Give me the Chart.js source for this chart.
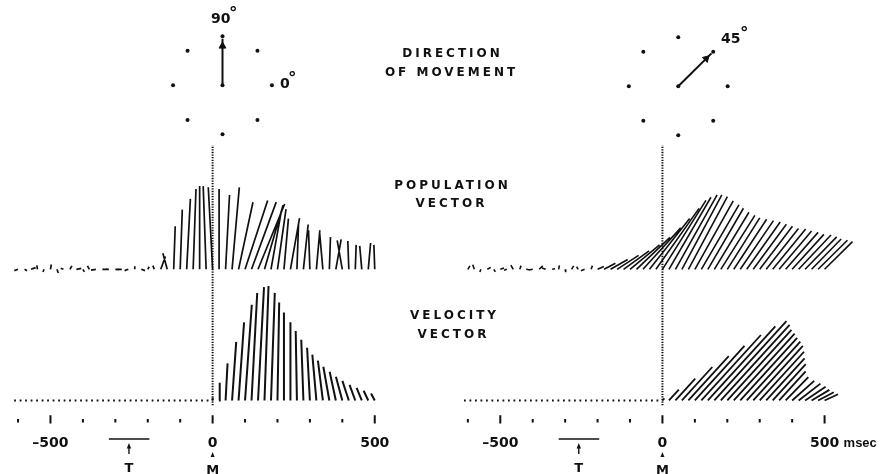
<!DOCTYPE html>
<html>
<head>
<meta charset="utf-8">
<script src="https://cdn.jsdelivr.net/npm/chart.js@4/dist/chart.umd.min.js"></script>
<style>
  html, body { margin: 0; padding: 0; background: #fff; }
  #wrap { width: 880px; height: 474px; position: relative; }
</style>
</head>
<body>
<div id="wrap"><canvas id="fig"></canvas></div>
<script>
// time axis (msec, relative to movement onset M)
const tickMs = [-600, -500, -400, -300, -200, -100, 0, 100, 200, 300, 400, 500];
const majorMs = [-500, 0, 500];
const tickLabels = ['\u2013500', '0', '500'];
const targetBarMs = [-320, -195];
const targetMs = -258;

// direction of movement dials
const targetDirs = [0, 45, 90, 135, 180, 225, 270, 315];
const moveDirs = [90, 45];

// population vector, sampled every 20 ms
const popT = [-600, -580, -560, -540, -520, -500, -480, -460, -440, -420, -400, -380, -360, -340,
  -320, -300, -280, -260, -240, -220, -200, -180, -160, -140, -120, -100, -80, -60, -40, -20,
  0, 20, 40, 60, 80, 100, 120, 140, 160, 180, 200, 220, 240, 260, 280, 300, 320, 340, 360, 380,
  400, 420, 440, 460, 480, 500];
const leftPopMag = [4, 3, 5, 4, 3, 5, 4, 3, 4, 5, 3, 4, 5, 4, 3, 4, 5, 4, 3, 4, 3, 4,
  14, 17, 44, 61, 72, 82, 85, 85, 84, 82, 76, 84, 70, 74, 73, 72, 68, 58, 62, 52,
  53, 47, 46, 40, 40, 37, 33, 31, 30, 29, 25, 24, 27, 25];
const leftPopDir = [200, 330, 20, 100, 250, 80, 290, 160, 60, 10, 300, 120, 190, 0, 175, 355, 180, 200, 90, 340, 60, 110,
  70, 105, 88, 88, 87, 88, 90, 92, 93, 90, 87, 85, 78, 72, 70, 68, 74, 80, 82, 85,
  80, 88, 84, 92, 85, 95, 88, 80, 100, 92, 88, 95, 85, 92];
const rightPopMag = [4, 5, 3, 4, 3, 4, 3, 5, 4, 3, 4, 5, 4, 3, 4, 3, 4, 3, 4, 4,
  7, 13, 20, 26, 32, 39, 47, 57, 66, 76, 83, 85, 87, 86, 84, 80, 76, 72, 68, 65,
  62, 61, 60, 59, 57, 55, 53, 53, 51, 50, 48, 48, 46, 43, 42, 40];
const rightPopDir = [60, 110, 250, 30, 300, 20, 200, 120, 70, 350, 190, 45, 160, 10, 80, 280, 60, 120, 200, 70,
  25, 28, 30, 33, 36, 40, 44, 48, 52, 55, 58, 60, 61, 62, 62, 61, 60, 60, 59, 58,
  58, 57, 56, 55, 54, 53, 52, 51, 50, 49, 48, 47, 46, 46, 45, 45];

// movement velocity vector, sampled every 20 ms
const velT = [0, 20, 40, 60, 80, 100, 120, 140, 160, 180, 200, 220, 240, 260, 280, 300, 320, 340, 360, 380,
  400, 420, 440, 460, 480, 500];
const leftVelMag = [3, 18, 38, 60, 80, 98, 110, 116, 117, 110, 100, 90, 80, 71, 62, 54, 47, 41, 35, 30,
  25, 21, 17, 14, 11, 8];
const leftVelDir = [90, 88, 87, 86, 86, 86, 87, 87, 88, 88, 89, 90, 90, 91, 92, 93, 95, 97, 100, 102,
  105, 108, 110, 112, 115, 118];
const rightVelMag = [3, 15, 30, 46, 61, 75, 90, 102, 109, 104, 97, 92, 86, 81, 75, 67, 58, 50, 40, 33,
  30, 28, 25, 21, 18, 15];
const rightVelDir = [48, 48, 48, 48, 48, 48, 48, 48, 48, 48, 48, 48, 48, 48, 48, 48, 48, 48, 48, 46,
  42, 38, 34, 31, 28, 25];

// layout
const W = 880, H = 474;
const PX_PER_MS = 0.328;
const LEFT_ZERO = 210, RIGHT_ZERO = 665;
const POP_BASE = 270, VEL_BASE = 404;
const VLINE_TOP = 261;       // top of the dotted M line, above the velocity baseline
const DIAL_R = 50;
const DIAL_CENTERS = [[220, 82], [681, 83]];
const INK = '#111';

// one vector per sample: tail on the baseline, head along its direction
function vectorData(times, mags, dirs) {
  const d = [];
  for (let i = 0; i < times.length; i++) {
    const a = dirs[i] * Math.PI / 180;
    d.push({ x: times[i], y: 0 });
    d.push({ x: times[i] + mags[i] * Math.cos(a) / PX_PER_MS, y: mags[i] * Math.sin(a) });
    d.push({ x: times[i], y: null });
  }
  return d;
}

function tickData(values, y0, y1) {
  const d = [];
  values.forEach(v => { d.push({ x: v, y: y0 }, { x: v, y: y1 }, { x: v, y: null }); });
  return d;
}

function dialDots() {
  const d = [];
  DIAL_CENTERS.forEach(([cx, cy]) => {
    d.push({ x: cx, y: cy });
    targetDirs.forEach(a => {
      const r = a * Math.PI / 180;
      d.push({ x: cx + DIAL_R * Math.cos(r), y: cy - DIAL_R * Math.sin(r) });
    });
  });
  return d;
}

function dialArrows() {
  const d = [];
  moveDirs.forEach((a, i) => {
    const [cx, cy] = DIAL_CENTERS[i];
    const r = a * Math.PI / 180;
    d.push({ x: cx, y: cy }, { x: cx + 0.95 * DIAL_R * Math.cos(r), y: cy - 0.95 * DIAL_R * Math.sin(r) }, { x: cx, y: null });
  });
  return d;
}

function arrowHeads() {
  return moveDirs.map((a, i) => {
    const [cx, cy] = DIAL_CENTERS[i];
    const r = a * Math.PI / 180;
    return { x: cx + 0.8 * DIAL_R * Math.cos(r), y: cy - 0.8 * DIAL_R * Math.sin(r) };
  });
}

const minorMs = tickMs.filter(t => !majorMs.includes(t));

function lineSet(data, xAxisID, yAxisID, width, dash) {
  return {
    data, xAxisID, yAxisID,
    showLine: true, borderColor: INK, borderWidth: width, borderDash: dash || [],
    pointRadius: 0, pointHoverRadius: 0, tension: 0, fill: false
  };
}

const datasets = [
  lineSet(vectorData(popT, leftPopMag, leftPopDir), 'x', 'yp', 1.7),
  lineSet(vectorData(popT, rightPopMag, rightPopDir), 'x2', 'yp', 1.6),
  lineSet(vectorData(velT, leftVelMag, leftVelDir), 'x', 'yv', 2),
  lineSet(vectorData(velT, rightVelMag, rightVelDir), 'x2', 'yv', 1.8),
  lineSet([{ x: -612, y: 0 }, { x: 0, y: 0 }], 'x', 'yv', 1.8, [1.8, 3.7]),
  lineSet([{ x: -612, y: 0 }, { x: 0, y: 0 }], 'x2', 'yv', 1.8, [1.8, 3.7]),
  lineSet([{ x: 0, y: -5 }, { x: 0, y: VLINE_TOP }], 'x', 'yv', 2, [1.3, 1.3]),
  lineSet([{ x: 0, y: -5 }, { x: 0, y: VLINE_TOP }], 'x2', 'yv', 2, [1.3, 1.3]),
  lineSet(tickData(minorMs, -19, -22.5), 'x', 'yv', 2),
  lineSet(tickData(minorMs, -19, -22.5), 'x2', 'yv', 2),
  lineSet(tickData(majorMs, -15, -23.5), 'x', 'yv', 2),
  lineSet(tickData(majorMs, -15, -23.5), 'x2', 'yv', 2),
  lineSet(dialArrows(), 'xd', 'yd', 2),
  {
    data: dialDots(), xAxisID: 'xd', yAxisID: 'yd', showLine: false,
    pointRadius: 2, pointBackgroundColor: INK, pointBorderWidth: 0, pointHoverRadius: 2
  },
  {
    data: arrowHeads(), xAxisID: 'xd', yAxisID: 'yd', showLine: false,
    pointStyle: 'triangle', pointRadius: 4, rotation: moveDirs.map(a => 90 - a),
    pointBackgroundColor: INK, pointBorderColor: INK, pointBorderWidth: 1
  }
];

function spaced(ctx, str, cx, y, spacing) {
  ctx.letterSpacing = spacing + 'px';
  const w = ctx.measureText(str).width - spacing;
  ctx.textAlign = 'left';
  ctx.fillText(str, cx - w / 2, y);
  ctx.letterSpacing = '0px';
}

const textPlugin = {
  id: 'figureText',
  afterDraw(chart) {
    const ctx = chart.ctx;
    ctx.save();
    ctx.fillStyle = INK;
    ctx.strokeStyle = INK;
    ctx.textBaseline = 'alphabetic';

    // row titles
    ctx.font = 'bold 12px "DejaVu Sans"';
    spaced(ctx, 'DIRECTION', 451, 57, 3);
    spaced(ctx, 'OF MOVEMENT', 450, 76, 3);
    spaced(ctx, 'POPULATION', 451, 189, 3);
    spaced(ctx, 'VECTOR', 450, 207, 3);
    spaced(ctx, 'VELOCITY', 453, 319, 3);
    spaced(ctx, 'VECTOR', 452, 338, 3);

    // dial labels
    ctx.font = 'bold 14px "DejaVu Sans"';
    ctx.textAlign = 'left';
    ctx.fillText('90', 211, 23);
    ctx.fillText('0', 280, 88);
    ctx.fillText('45', 721, 43);
    ctx.font = 'bold 17px "DejaVu Sans"';
    ctx.fillText('\u00b0', 229, 19);
    ctx.fillText('\u00b0', 288, 84);
    ctx.fillText('\u00b0', 740, 39);

    ['x', 'x2'].forEach((id, p) => {
      const sx = chart.scales[id];
      // tick labels
      ctx.font = 'bold 14px "DejaVu Sans"';
      ctx.textAlign = 'center';
      majorMs.forEach((t, i) => ctx.fillText(tickLabels[i], sx.getPixelForValue(t), 447));
      if (p === 1) {
        ctx.font = 'bold 13px "Liberation Sans"';
        ctx.textAlign = 'left';
        ctx.fillText('msec', sx.getPixelForValue(500) + 19, 447);
      }
      // target onset T
      ctx.lineWidth = 1.6;
      ctx.beginPath();
      ctx.moveTo(sx.getPixelForValue(targetBarMs[0]), 439);
      ctx.lineTo(sx.getPixelForValue(targetBarMs[1]), 439);
      ctx.stroke();
      const tx = sx.getPixelForValue(targetMs);
      ctx.lineWidth = 1.4;
      ctx.beginPath();
      ctx.moveTo(tx, 454);
      ctx.lineTo(tx, 447);
      ctx.stroke();
      ctx.beginPath();
      ctx.moveTo(tx, 443);
      ctx.lineTo(tx - 2.2, 448.5);
      ctx.lineTo(tx + 2.2, 448.5);
      ctx.closePath();
      ctx.fill();
      ctx.font = 'bold 13px "DejaVu Sans"';
      ctx.textAlign = 'center';
      ctx.fillText('T', tx, 472);
      // movement onset M
      const mx = sx.getPixelForValue(0);
      ctx.beginPath();
      ctx.moveTo(mx, 452);
      ctx.lineTo(mx - 2, 457);
      ctx.lineTo(mx + 2, 457);
      ctx.closePath();
      ctx.fill();
      ctx.fillText('M', mx, 474);
    });
    ctx.restore();
  }
};

new Chart(document.getElementById('fig'), {
  type: 'scatter',
  data: { datasets },
  options: {
    responsive: true,
    maintainAspectRatio: false,
    animation: false,
    events: [],
    layout: { padding: 0 },
    plugins: { legend: { display: false }, tooltip: { enabled: false }, title: { display: false } },
    scales: {
      x: { type: 'linear', display: false, bounds: 'data', min: -LEFT_ZERO / PX_PER_MS, max: (W - LEFT_ZERO) / PX_PER_MS },
      x2: { type: 'linear', display: false, bounds: 'data', min: -RIGHT_ZERO / PX_PER_MS, max: (W - RIGHT_ZERO) / PX_PER_MS },
      yp: { type: 'linear', display: false, bounds: 'data', min: POP_BASE - H, max: POP_BASE },
      yv: { type: 'linear', display: false, bounds: 'data', min: VEL_BASE - H, max: VEL_BASE },
      xd: { type: 'linear', display: false, bounds: 'data', min: 0, max: W },
      yd: { type: 'linear', display: false, bounds: 'data', min: 0, max: H, reverse: true }
    }
  },
  plugins: [textPlugin]
});
</script>
</body>
</html>
